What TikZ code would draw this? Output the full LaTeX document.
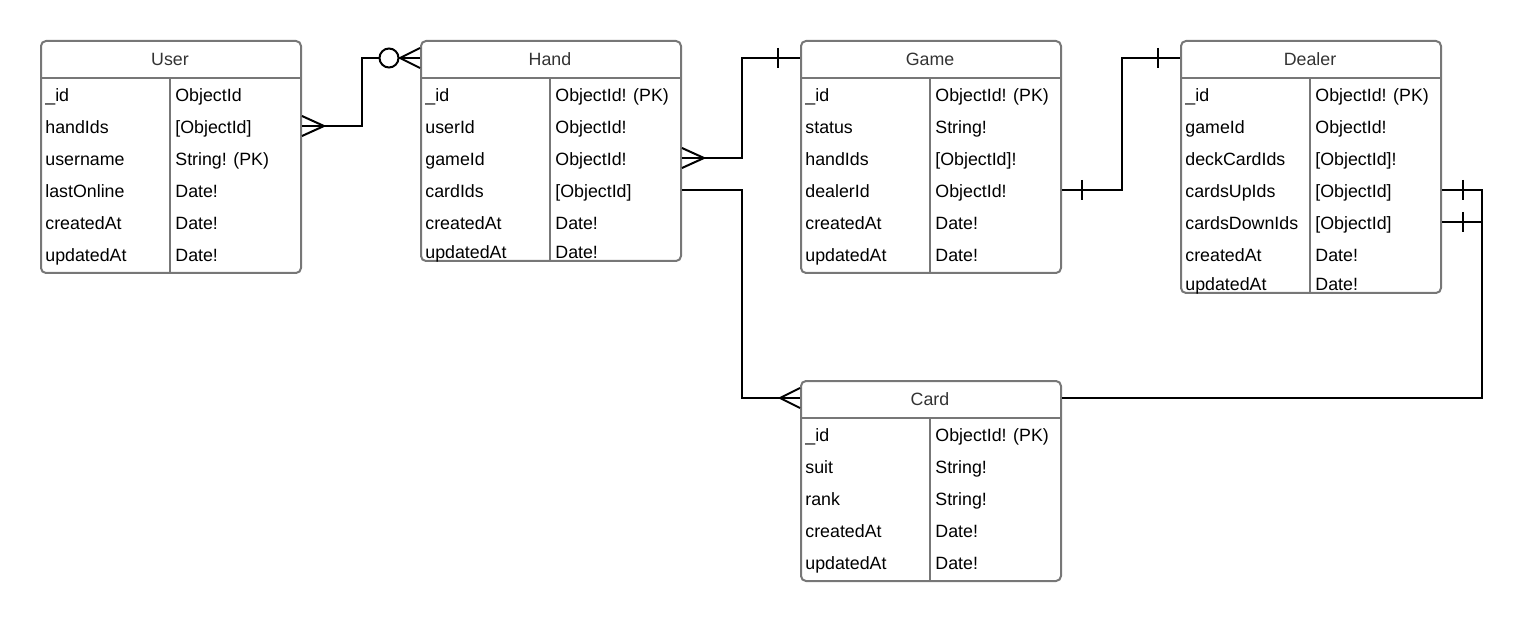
\documentclass[tikz,border=0pt]{standalone}
\usepackage{fontspec}
\setmainfont{Liberation Sans}

\definecolor{boxgray}{HTML}{777777}
\definecolor{titlegray}{HTML}{333333}

\tikzset{
    entity/.style={draw=boxgray, line width=1pt, rounded corners=2.5pt, anchor=north west, minimum width=130pt, inner sep=0pt},
    title/.style={text=titlegray, text height=0.72em, text depth=0pt, inner sep=0pt},
    field/.style={anchor=west, text height=0.72em, text depth=0pt, inner sep=0pt},
    sep/.style={draw=boxgray, line width=1pt},
    rel/.style={line width=1pt, black},
}

\begin{document}
\begin{tikzpicture}[x=0.5pt, y=-0.5pt, font=\fontsize{8.9}{10}\selectfont]
    \useasboundingbox (0,0) rectangle (1521,620);

    % User
    \node[entity, minimum height=116pt] (user) at (40,40) {};
    \node[title] (user-title) at (170,58) {User};
    \draw[sep] (40,78) -- (300,78) (170,78) -- (170,272);
    \foreach \y/\f/\t [count=\i] in {94/\_id/ObjectId, 126/handIds/[ObjectId], 158/username/String! (PK), 190/lastOnline/Date!, 222/createdAt/Date!, 254/updatedAt/Date!}
        \node[field] (user-\i) at (45,\y) {\f} node[field] at (175,\y) {\t};

    % Hand
    \node[entity, minimum height=110pt] (hand) at (420,40) {};
    \node[title] (hand-title) at (550,58) {Hand};
    \draw[sep] (420,78) -- (680,78) (550,78) -- (550,260);
    \foreach \y/\f/\t [count=\i] in {94/\_id/ObjectId! (PK), 126/userId/ObjectId!, 158/gameId/ObjectId!, 190/cardIds/[ObjectId], 222/createdAt/Date!, 251/updatedAt/Date!}
        \node[field] (hand-\i) at (425,\y) {\f} node[field] at (555,\y) {\t};

    % Game
    \node[entity, minimum height=116pt] (game) at (800,40) {};
    \node[title] (game-title) at (930,58) {Game};
    \draw[sep] (800,78) -- (1060,78) (930,78) -- (930,272);
    \foreach \y/\f/\t [count=\i] in {94/\_id/ObjectId! (PK), 126/status/String!, 158/handIds/[ObjectId]!, 190/dealerId/ObjectId!, 222/createdAt/Date!, 254/updatedAt/Date!}
        \node[field] (game-\i) at (805,\y) {\f} node[field] at (935,\y) {\t};

    % Dealer
    \node[entity, minimum height=126pt] (dealer) at (1180,40) {};
    \node[title] (dealer-title) at (1310,58) {Dealer};
    \draw[sep] (1180,78) -- (1440,78) (1310,78) -- (1310,292);
    \foreach \y/\f/\t [count=\i] in {94/\_id/ObjectId! (PK), 126/gameId/ObjectId!, 158/deckCardIds/[ObjectId]!, 190/cardsUpIds/[ObjectId], 222/cardsDownIds/[ObjectId], 254/createdAt/Date!, 283/updatedAt/Date!}
        \node[field] (dealer-\i) at (1185,\y) {\f} node[field] at (1315,\y) {\t};

    % Card
    \node[entity, minimum height=100pt] (card) at (800,380) {};
    \node[title] (card-title) at (930,398) {Card};
    \draw[sep] (800,418) -- (1060,418) (930,418) -- (930,580);
    \foreach \y/\f/\t [count=\i] in {434/\_id/ObjectId! (PK), 466/suit/String!, 498/rank/String!, 530/createdAt/Date!, 562/updatedAt/Date!}
        \node[field] (card-\i) at (805,\y) {\f} node[field] at (935,\y) {\t};

    % User -- Hand
    \draw[rel] (user.east |- user-2) -- ++(60,0) |- (hand.west |- hand-title);
    \draw[rel] (user.east |- user-2) ++(0,-10) -- ++(22,10) -- ++(-22,10);
    \draw[rel] (hand.west |- hand-title) ++(0,-10) -- ++(-20,10) -- ++(20,10);
    \draw[rel, fill=white] (hand.west |- hand-title) ++(-31,0) circle[radius=4.75pt];

    % Hand -- Game
    \draw[rel] (hand.east |- hand-3) -- ++(60,0) |- (game.west |- game-title);
    \draw[rel] (hand.east |- hand-3) ++(0,-10) -- ++(22,10) -- ++(-22,10);
    \draw[rel] (game.west |- game-title) ++(-22,-10) -- ++(0,20);

    % Hand -- Card
    \draw[rel] (hand.east |- hand-4) -- ++(60,0) |- (card.west |- card-title);
    \draw[rel] (card.west |- card-title) ++(0,-10) -- ++(-20,10) -- ++(20,10);

    % Game -- Dealer
    \draw[rel] (game.east |- game-4) -- ++(60,0) |- (dealer.west |- dealer-title);
    \draw[rel] (game.east |- game-4) ++(20,-10) -- ++(0,20);
    \draw[rel] (dealer.west |- dealer-title) ++(-22,-10) -- ++(0,20);

    % Dealer -- Card
    \draw[rel] (dealer.east |- dealer-4) -- ++(40,0) |- (card.east |- card-title);
    \draw[rel] (dealer.east |- dealer-5) -- ++(40,0);
    \draw[rel] (dealer.east |- dealer-4) ++(21,-10) -- ++(0,20);
    \draw[rel] (dealer.east |- dealer-5) ++(21,-10) -- ++(0,20);
\end{tikzpicture}
\end{document}
